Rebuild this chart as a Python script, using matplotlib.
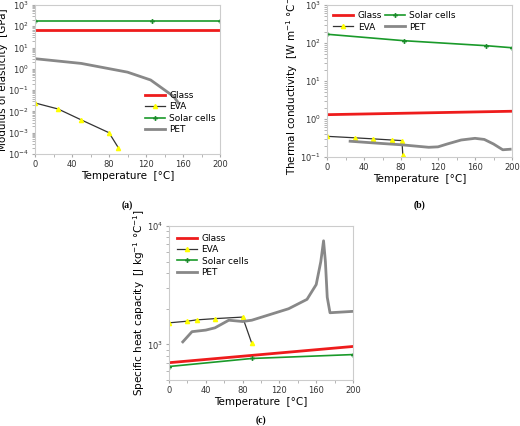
import matplotlib
matplotlib.use("Agg")
import matplotlib.pyplot as plt
from matplotlib.ticker import MultipleLocator, LogLocator, NullFormatter

# (a) modulus
a_glass_x=[0,200]; a_glass_y=[70,70]
a_sc_x=[0,127,200]; a_sc_y=[170,170,170]
a_pet_x=[0,50,100,125,150,155]; a_pet_y=[3,1.8,0.7,0.3,0.05,0.025]
a_eva_x=[0,25,50,80,90]; a_eva_y=[0.025,0.013,0.004,0.001,0.0002]
# (b) conductivity
b_glass_x=[0,200]; b_glass_y=[1.3,1.6]
b_sc_x=[0,83,172,200]; b_sc_y=[170,115,85,75]
b_eva_x=[0,30,50,70,81,82]; b_eva_y=[0.35,0.32,0.3,0.28,0.27,0.11]
b_pet_x=[25,50,80,110,120,130,145,160,170,180,190,198]; b_pet_y=[0.26,0.235,0.21,0.18,0.185,0.22,0.28,0.31,0.29,0.22,0.155,0.16]
# (c) heat capacity
c_glass_x=[0,200]; c_glass_y=[700,960]
c_sc_x=[0,90,200]; c_sc_y=[650,760,820]
c_eva_x=[0,20,30,50,80,90]; c_eva_y=[1520,1570,1610,1650,1700,1020]
c_pet_x=[15,25,40,50,65,80,90,130,150,160,165,168,170,172,175,200]
c_pet_y=[1050,1280,1320,1380,1600,1560,1600,2000,2400,3200,5000,7500,5000,2500,1850,1900]

fig=plt.figure(figsize=(5.2,4.26),dpi=100)
W,H=520,426
def ax_at(l,r,t,b):
    return fig.add_axes([l/W,1-b/H,(r-l)/W,(b-t)/H])
axa=ax_at(35,220,5,154); axb=ax_at(327,512,5,157); axc=ax_at(169,353,226,380)

def style(ax,ylab,ylim):
    ax.set_yscale('log'); ax.set_ylim(*ylim); ax.set_xlim(0,200)
    ax.xaxis.set_major_locator(MultipleLocator(40)); ax.xaxis.set_minor_locator(MultipleLocator(20))
    ax.yaxis.set_minor_locator(LogLocator(subs=range(2,10))); ax.yaxis.set_minor_formatter(NullFormatter())
    for s in ax.spines.values(): s.set_color('#cccccc')
    ax.tick_params(labelsize=6,colors='#333333',which='both',color='#aaaaaa',length=2.5,pad=2)
    ax.set_xlabel('Temperature  [°C]',fontsize=7.5,labelpad=1)
    ax.set_ylabel(ylab,fontsize=7.5,labelpad=0)

def draw(ax,g,e,s,p,order):
    h={}
    h['Glass'],=ax.plot(*g,color='#ee1c1c',lw=2,label='Glass')
    h['EVA'],=ax.plot(*e,color='#333333',lw=0.9,marker='^',ms=3,mfc='#ffff00',mec='#ffff00',label='EVA')
    h['Solar cells'],=ax.plot(*s,color='#1a9a2a',lw=1.2,marker='P',ms=3.5,mfc='#1a8a2a',mec='#1a8a2a',mew=0,label='Solar cells')
    h['PET'],=ax.plot(*p,color='#888888',lw=2,label='PET')
    return [h[k] for k in order]

kw=dict(frameon=False,fontsize=6.5,handlelength=2.2,labelspacing=0.25,handletextpad=0.5)
hs=draw(axa,(a_glass_x,a_glass_y),(a_eva_x,a_eva_y),(a_sc_x,a_sc_y),(a_pet_x,a_pet_y),['Glass','EVA','Solar cells','PET'])
style(axa,'Modulus of elasticity  [GPa]',(1e-4,1e3))
axa.legend(handles=hs,loc='lower right',bbox_to_anchor=(1.02,0.08),**kw)

hs=draw(axb,(b_glass_x,b_glass_y),(b_eva_x,b_eva_y),(b_sc_x,b_sc_y),(b_pet_x,b_pet_y),['Glass','EVA','Solar cells','PET'])
style(axb,'Thermal conductivity  [W m$^{-1}$ °C$^{-1}$]',(0.1,1e3))
axb.legend(handles=hs,loc='upper left',ncol=2,columnspacing=0.3,borderaxespad=0.3,**kw)

hs=draw(axc,(c_glass_x,c_glass_y),(c_eva_x,c_eva_y),(c_sc_x,c_sc_y),(c_pet_x,c_pet_y),['Glass','EVA','Solar cells','PET'])
style(axc,'Specific heat capacity  [J kg$^{-1}$ °C$^{-1}$]',(500,1e4))
axc.legend(handles=hs,loc='upper left',**kw)

for x,y,t in [(127,205,'(a)'),(420,205,'(b)'),(261,420,'(c)')]:
    fig.text(x/W,1-y/H,t,ha='center',va='center',fontsize=7,fontweight='bold',family='Liberation Serif')

fig.savefig('out.png',dpi=100)
